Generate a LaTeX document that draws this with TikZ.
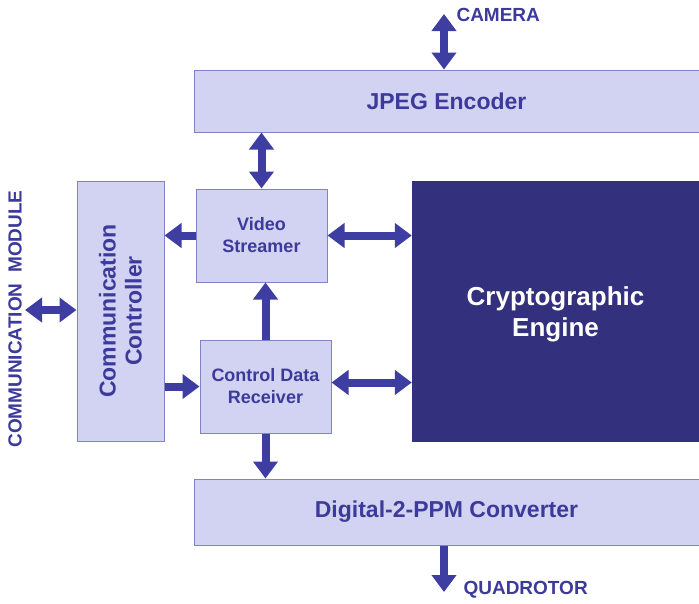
\documentclass[tikz,border=0pt]{standalone}
\usepackage{fontspec}
\setmainfont{Liberation Sans}
\usetikzlibrary{calc,arrows.meta}
\definecolor{boxfill}{HTML}{D2D2F2}
\definecolor{boxline}{HTML}{8282C8}
\definecolor{engine}{HTML}{33307D}
\definecolor{ink}{HTML}{3C3A9A}
\definecolor{flow}{HTML}{3E3EA2}
\tikzset {>={Triangle[length=17pt,width=24pt]}}
\tikzset {box/.style={draw=boxline,fill=boxfill,line width=1pt,inner sep=0pt,
    text=ink,font=\bfseries,align=center}}
\tikzset {bus/.style={flow,line width=8pt}}

\begin{document}
\begin{tikzpicture}[x=1pt,y=-1pt]
\useasboundingbox (0,0) rectangle (699,603);

% Place the blocks
\node [box,minimum width=505,minimum height=62,font=\fontsize{23}{26}\bfseries] (jpeg) at (446.5,101) {JPEG Encoder};
\node [box,minimum width=505,minimum height=66,font=\fontsize{23}{26}\bfseries] (dig) at (446.5,512) {Digital-2-PPM Converter};
\node [box,minimum width=87,minimum height=260] (cc) at (120.5,311) {};
\node [text=ink,rotate=90,align=center,font=\fontsize{23}{26}\bfseries] (cclabel) at (cc) {Communication\\Controller};
\node [box,minimum width=131,minimum height=93,font=\fontsize{18}{22}\bfseries] (vs) at (261.5,235.5) {Video\\Streamer};
\node [box,minimum width=131,minimum height=93,font=\fontsize{18}{22}\bfseries] (cdr) at (265.5,386.5) {Control Data\\Receiver};
\node [fill=engine,minimum width=287,minimum height=261,inner sep=0pt] (crypto) at (555.5,311.5) {};
\node [text=white,align=center,font=\fontsize{26}{31}\bfseries] (cryptolabel) at ($(crypto)+(0,3)$) {Cryptographic\\Engine};

% Outside world
\coordinate (cam) at (444,14);
\coordinate (quad) at (444,592);
\coordinate (mod) at (25,310);
\node [text=ink,anchor=west,font=\fontsize{19}{22}\bfseries] (camlabel) at (453,15) {CAMERA};
\node [text=ink,anchor=west,font=\fontsize{19}{22}\bfseries] (quadlabel) at (460,590) {QUADROTOR};
\node [text=ink,rotate=90,font=\fontsize{19}{22}\bfseries] (modlabel) at (15,319) {COMMUNICATION\ \ MODULE};

% Draw the data paths
\draw [bus,<->] (cam) -- (cam |- jpeg.north);
\draw [bus,->] (quad |- dig.south) -- (quad);
\draw [bus,<->] (mod) -- (mod -| cc.west);
\draw [bus,<->] (vs.north) -- (vs.north |- jpeg.south);
\draw [bus,->] (vs.west) -- (vs.west -| cc.east);
\draw [bus,<->] (vs.east) -- (vs.east -| crypto.west);
\draw [bus,->] (cdr.north) -- (cdr.north |- vs.south);
\draw [bus,->] (cc.east |- cdr.west) -- (cdr.west);
\draw [bus,<->] ($(cdr.east)+(0,-4)$) -- ($(cdr.east -| crypto.west)+(0,-4)$);
\draw [bus,->] (cdr.south) -- (cdr.south |- dig.north);

\end{tikzpicture}
\end{document}
